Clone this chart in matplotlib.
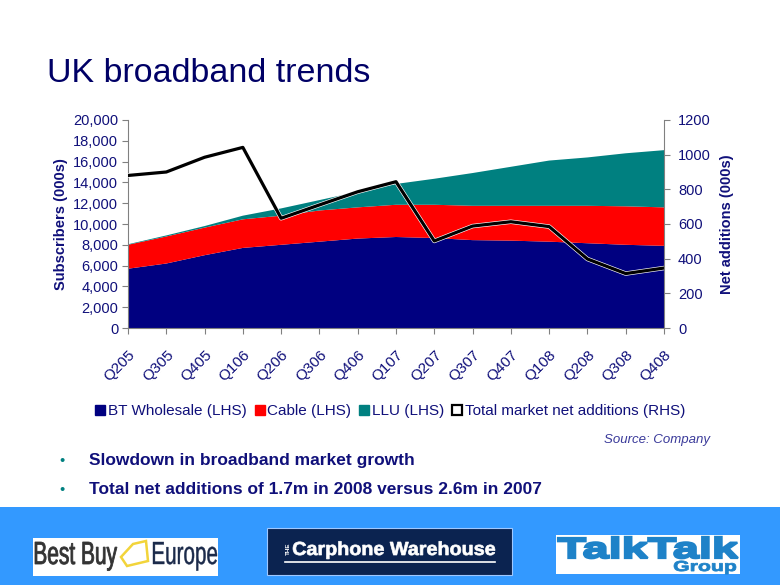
import numpy as np
import matplotlib.pyplot as plt
import matplotlib.patheffects as pe
from matplotlib.lines import Line2D
from matplotlib.patches import Rectangle, Polygon, PathPatch
from matplotlib.textpath import TextPath
from matplotlib.font_manager import FontProperties
from matplotlib.transforms import Affine2D, ScaledTranslation
from matplotlib.ticker import FuncFormatter

# ---- data ----
quarters = ["Q205", "Q305", "Q405", "Q106", "Q206", "Q306", "Q406", "Q107",
            "Q207", "Q307", "Q407", "Q108", "Q208", "Q308", "Q408"]
bt_wholesale = [5700, 6200, 7000, 7700, 8000, 8300, 8600, 8750,
                8650, 8450, 8400, 8300, 8150, 8000, 7900]
cable = [2300, 2600, 2650, 2750, 2800, 3000, 3000, 3100,
         3200, 3300, 3350, 3450, 3600, 3700, 3700]
llu = [50, 100, 150, 350, 700, 1000, 1500, 2000,
       2500, 3150, 3750, 4350, 4650, 5100, 5500]
net_additions = [880, 900, 985, 1042, 633, 710, 786, 844,
                 502, 588, 613, 585, 398, 314, 346]

NAVY = "#000080"
RED = "#FF0000"
TEAL = "#008080"
TEXT = "#10107a"
GREY = "#808080"

plt.rcParams["font.family"] = ["Liberation Sans", "DejaVu Sans"]

fig = plt.figure(figsize=(7.8, 5.85), dpi=100)
fig.patch.set_facecolor("white")

# ---- title ----
fig.text(47 / 780, 1 - 73 / 585, "UK broadband trends", fontsize=24.5,
         color="#000066", va="center", ha="left")

# ---- main chart ----
ax = fig.add_axes([128 / 780, 1 - 328 / 585, 536 / 780, 208 / 585])
x = np.arange(len(quarters))
ax.stackplot(x, bt_wholesale, cable, llu, colors=[NAVY, RED, TEAL],
             linewidth=0)
ax.set_xlim(0, len(quarters) - 1)
ax.set_ylim(0, 20000)
ax.set_yticks(np.arange(0, 20001, 2000))
ax.yaxis.set_major_formatter(FuncFormatter(lambda v, p: f"{int(v):,}"))
ax.set_xticks(x)
ax.set_xticklabels(quarters, rotation=45, ha="right", va="top",
                   rotation_mode="anchor")
shift = ScaledTranslation(-9 / 100, 0, fig.dpi_scale_trans)
for lab in ax.get_xticklabels():
    lab.set_transform(lab.get_transform() + shift)
ax.tick_params(axis="x", length=4, color=GREY, labelcolor=TEXT,
               labelsize=11, pad=10)
ax.tick_params(axis="y", length=4, color=GREY, labelcolor=TEXT,
               labelsize=10.5, pad=3)
ax.set_ylabel("Subscribers (000s)", fontsize=10.5, fontweight="bold",
              color=TEXT, labelpad=4)
for side in ["top", "right"]:
    ax.spines[side].set_visible(False)
for side in ["left", "bottom"]:
    ax.spines[side].set_color(GREY)
ax.set_facecolor("white")

ax2 = ax.twinx()
ax2.plot(x, net_additions, color="black", linewidth=2.3,
         path_effects=[pe.Stroke(linewidth=3.2, foreground="white"),
                       pe.Normal()])
ax2.set_ylim(0, 1200)
ax2.set_yticks(np.arange(0, 1201, 200))
ax2.tick_params(axis="y", length=4, color=GREY, labelcolor=TEXT,
                labelsize=10.5, pad=6)
ax2.set_ylabel("Net additions (000s)", fontsize=10.5, fontweight="bold",
               color=TEXT, labelpad=7)
for side in ["top", "left", "bottom"]:
    ax2.spines[side].set_visible(False)
ax2.spines["right"].set_color(GREY)

# ---- legend ----
handles = [
    Line2D([], [], marker="s", linestyle="none", markersize=7,
           markerfacecolor=NAVY, markeredgecolor=NAVY),
    Line2D([], [], marker="s", linestyle="none", markersize=7,
           markerfacecolor=RED, markeredgecolor=RED),
    Line2D([], [], marker="s", linestyle="none", markersize=7,
           markerfacecolor=TEAL, markeredgecolor=TEAL),
    Line2D([], [], marker="s", linestyle="none", markersize=6.5,
           markerfacecolor="white", markeredgecolor="black",
           markeredgewidth=1.6),
]
labels = ["BT Wholesale (LHS)", "Cable (LHS)", "LLU (LHS)",
          "Total market net additions (RHS)"]
leg = fig.legend(handles, labels, loc="center", ncol=4, frameon=False,
                 bbox_to_anchor=(390 / 780, 1 - 411 / 585),
                 fontsize=11, handlelength=0.7, handletextpad=0.15,
                 columnspacing=0.5)
for t in leg.get_texts():
    t.set_color(TEXT)

fig.text(710 / 780, 1 - 440 / 585, "Source: Company", fontsize=9.5,
         style="italic", color="#3a3a9a", ha="right", va="center")

# ---- bullets ----
bullets = ["Slowdown in broadband market growth",
           "Total net additions of 1.7m in 2008 versus 2.6m in 2007"]
for i, b in enumerate(bullets):
    yy = 1 - (461 + i * 29) / 585
    fig.text(62 / 780, yy, "\u2022", fontsize=10.5, color=TEAL, ha="center",
             va="center")
    fig.text(89 / 780, yy, b, fontsize=12.5, fontweight="bold", color=TEXT,
             ha="left", va="center")

# ---- footer band with logos ----
fig.patches.append(Rectangle((0, 0), 1, 78 / 585, transform=fig.transFigure,
                             facecolor="#3399FF", edgecolor="none",
                             zorder=0))


def fig_box(x0, y0, x1, y1, fc, ec="none"):
    fig.patches.append(Rectangle((x0 / 780, 1 - y1 / 585),
                                 (x1 - x0) / 780, (y1 - y0) / 585,
                                 transform=fig.transFigure, facecolor=fc,
                                 edgecolor=ec, linewidth=0.8, zorder=1))


def logo_text(s, x0, base, width, cap, color, weight="normal", stroke=0.0):
    # text stretched into pixels: left x, baseline y, width, cap height
    prop = FontProperties(family="Liberation Sans", weight=weight)
    tp = TextPath((0, 0), s, size=1, prop=prop)
    cap_h = TextPath((0, 0), "H", size=1, prop=prop).get_extents().y1
    ext = tp.get_extents()
    sx = width / (ext.x1 - ext.x0)
    sy = cap / cap_h
    tr = Affine2D().translate(-ext.x0, 0).scale(sx / 780, sy / 585)
    tr = tr.translate(x0 / 780, 1 - base / 585)
    fig.patches.append(PathPatch(tp, transform=tr + fig.transFigure,
                                 facecolor=color, edgecolor=color,
                                 linewidth=stroke, zorder=3))


# Best Buy Europe
fig_box(33, 538, 218, 576, "white")
logo_text("Best Buy", 35, 564, 82, 22, "#333333", stroke=0.6)
fig.patches.append(Polygon([(121 / 780, 1 - 557 / 585),
                            (133 / 780, 1 - 544 / 585),
                            (146 / 780, 1 - 541 / 585),
                            (148 / 780, 1 - 561 / 585),
                            (127 / 780, 1 - 566 / 585)],
                           closed=True, transform=fig.transFigure,
                           facecolor="none", edgecolor="#f2d43a",
                           linewidth=1.8, zorder=3))
logo_text("Europe", 153, 564, 64, 22, "#1b2a4a", stroke=0.3)

# Carphone Warehouse
fig_box(267, 528, 512, 575, "#0b2350", ec="#9fc8ff")
fig.text(288 / 780, 1 - 549 / 585, "THE", fontsize=4.5, color="white",
         rotation=90, ha="center", va="center", fontweight="bold", zorder=3)
logo_text("Carphone Warehouse", 293, 555, 202, 13, "white", weight="bold",
          stroke=0.5)
fig.lines.append(Line2D([285 / 780, 495 / 780], [1 - 562 / 585, 1 - 562 / 585],
                        transform=fig.transFigure, color="white",
                        linewidth=1.2, zorder=3))

# TalkTalk Group
fig_box(556, 535, 740, 574, "white")
logo_text("TalkTalk", 558, 558, 180, 20, "#1e82c8", weight="bold",
          stroke=1.6)
logo_text("Group", 674, 571, 62, 10, "#1e82c8", weight="bold", stroke=0.6)

fig.savefig("out.png", dpi=100)
